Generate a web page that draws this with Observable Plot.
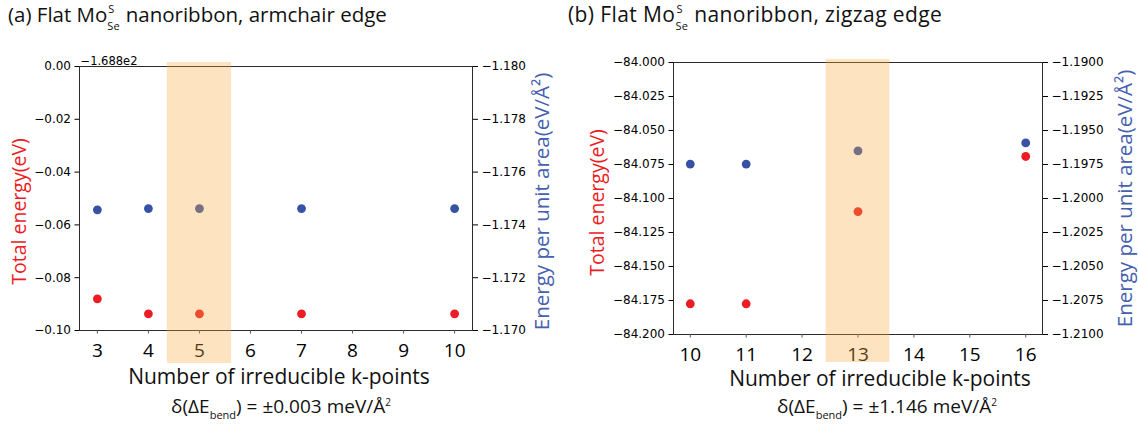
<!DOCTYPE html>
<html><head><meta charset="utf-8">
<script src="https://cdn.jsdelivr.net/npm/d3@7"></script>
<script src="https://cdn.jsdelivr.net/npm/@observablehq/plot@0.6"></script>
<style>
body{margin:0;background:#fff;}
#wrap{position:relative;width:1138px;height:433px;overflow:hidden;font-family:"Open Sans",sans-serif;color:#111;}
.layer{position:absolute;top:0;}
.title{position:absolute;top:0px;line-height:normal;white-space:nowrap;}
.stack{display:inline-block;position:relative;width:13px;height:0;}
.stack .up{position:absolute;left:1px;top:-19px;font-size:11px;line-height:11px;}
.stack .dn{position:absolute;left:0px;top:-2px;font-size:11px;line-height:11px;}
.note{position:absolute;top:396px;width:300px;text-align:center;font-size:19px;line-height:20px;white-space:nowrap;}
.note sub{font-size:11px;vertical-align:-6px;line-height:0;}
.note sup{font-size:10px;vertical-align:7px;line-height:0;}
</style></head>
<body><div id="wrap">
<div class="title" style="left:8px;font-size:20.5px">(a) Flat Mo<span class="stack"><span class="up">S</span><span class="dn">Se</span></span> nanoribbon, armchair edge</div>
<div class="title" style="left:568px;font-size:21px;letter-spacing:0.4px">(b) Flat Mo<span class="stack"><span class="up">S</span><span class="dn">Se</span></span> nanoribbon, zigzag edge</div>
</div>
<script>
// ---- Panel (a): armchair edge ----
const kA = [3, 4, 5, 7, 10];
const totalOffsetA = -168.8;
const offsetLabelA = "\u22121.688e2";
const totalA = [-168.8880, -168.8937, -168.8937, -168.8937, -168.8937];
const areaA = [-1.17457, -1.17462, -1.17462, -1.17462, -1.17462];
const kTicksA = [3, 4, 5, 6, 7, 8, 9, 10];
const totalTicksA = [0, -0.02, -0.04, -0.06, -0.08, -0.10];
const areaTicksA = [-1.180, -1.178, -1.176, -1.174, -1.172, -1.170];
const bandA = [4.37, 5.63];
const noteA = "\u00b10.003";

// ---- Panel (b): zigzag edge ----
const kB = [10, 11, 13, 16];
const totalB = [-84.1774, -84.1774, -84.1096, -84.0691];
const areaB = [-1.19747, -1.19747, -1.1965, -1.19591];
const kTicksB = [10, 11, 12, 13, 14, 15, 16];
const totalTicksB = [-84.000, -84.025, -84.050, -84.075, -84.100, -84.125, -84.150, -84.175, -84.200];
const areaTicksB = [-1.1900, -1.1925, -1.1950, -1.1975, -1.2000, -1.2025, -1.2050, -1.2075, -1.2100];
const bandB = [12.43, 13.57];
const noteB = "\u00b11.146";

const xLabel = "Number of irreducible k-points";
const leftLabel = "Total energy(eV)";
const rightLabel = "Energy per unit area(eV/\u00c5\u00b2)";

const RED = "#ec1c24";
const BLUE = "#3651a5";
const BLUE_LABEL = "#4560ae";
const BAND = "rgb(249,171,67)";
const W = 569, H = 433;
const wrap = document.getElementById("wrap");

function panel(cfg) {
  const rowsL = cfg.k.map((k, i) => ({k, v: cfg.total[i] - (cfg.offset || 0)}));
  const rowsR = cfg.k.map((k, i) => ({k, v: cfg.area[i]}));
  const m = cfg.m;
  const common = {
    width: W, height: H,
    marginLeft: m.l, marginRight: m.r, marginTop: m.t, marginBottom: m.b,
    style: {background: "transparent", fontFamily: "DejaVu Sans", color: "black", overflow: "visible"}
  };
  const marksL = [
    Plot.frame({stroke: "#2a2a2a", strokeWidth: 1}),
    Plot.axisX({ticks: cfg.kTicks, tickSize: 3.5, tickPadding: 9, fontSize: 19, fontFamily: "Open Sans", label: null, tickFormat: d => String(d), stroke: "#555"}),
    Plot.axisY({ticks: cfg.totalTicks, tickSize: 4.5, tickPadding: 4, fontSize: 12, label: null, tickFormat: d3.format(cfg.lf)}),
    Plot.dot(rowsL, {x: "k", y: "v", r: 4.4, fill: RED}),
    Plot.text([xLabel], {text: d => d, frameAnchor: "bottom", textAnchor: "middle", lineAnchor: "middle", dy: cfg.xl.dy, dx: cfg.xl.dx, fontSize: 21, fontFamily: "Open Sans", fill: "#111"}),
    Plot.text([leftLabel], {text: d => d, frameAnchor: "left", textAnchor: "middle", lineAnchor: "middle", rotate: -90, dx: cfg.ll.dx, dy: cfg.ll.dy, fontSize: 19.5, fontFamily: "Open Sans", fill: RED})
  ];
  if (cfg.offsetLabel) marksL.push(Plot.text([cfg.offsetLabel], {text: d => d, frameAnchor: "top-left", textAnchor: "start", lineAnchor: "bottom", dy: -2, dx: 1, fontSize: 11.5}));
  const plotL = Plot.plot({
    ...common,
    x: {domain: cfg.xDomain},
    y: {domain: cfg.yDomainL},
    marks: marksL
  });
  const plotR = Plot.plot({
    ...common,
    x: {domain: cfg.xDomain, axis: null},
    y: {domain: cfg.yDomainR},
    marks: [
      Plot.axisY({anchor: "right", ticks: cfg.areaTicks, tickSize: 5, tickPadding: 4, fontSize: 12, label: null, tickFormat: d3.format(cfg.rf)}),
      Plot.dot(rowsR, {x: "k", y: "v", r: 4.4, fill: BLUE}),
      Plot.rect([cfg.band], {x1: d => d[0], x2: d => d[1], fill: BAND, fillOpacity: 0.335, insetTop: cfg.bandInset[0], insetBottom: cfg.bandInset[1]}),
      Plot.text([rightLabel], {text: d => d, frameAnchor: "right", textAnchor: "middle", lineAnchor: "middle", rotate: -90, dx: cfg.rl.dx, dy: cfg.rl.dy, fontSize: 20.5, fontFamily: "Open Sans", fill: BLUE_LABEL})
    ]
  });
  for (const p of [plotL, plotR]) {
    p.classList.add("layer");
    p.style.left = cfg.left + "px";
    p.style.position = "absolute";
    p.style.top = "0px";
    wrap.appendChild(p);
  }
  const note = document.createElement("div");
  note.className = "note";
  note.style.left = (cfg.noteCenter - 150) + "px";
  note.innerHTML = "\u03b4(\u0394E<sub>bend</sub>) = " + cfg.note + " meV/\u00c5<sup>2</sup>";
  wrap.appendChild(note);
}

panel({
  left: 0, m: {l: 79, r: 97, t: 66, b: 103},
  k: kA, total: totalA, area: areaA, offset: totalOffsetA, offsetLabel: offsetLabelA,
  kTicks: kTicksA, totalTicks: totalTicksA, areaTicks: areaTicksA,
  xDomain: [2.65, 10.35], yDomainL: [-0.10, 0], yDomainR: [-1.170, -1.180],
  lf: ".2f", rf: ".3f", band: bandA, bandInset: [-4, -33],
  xl: {dx: 3, dy: 47}, ll: {dx: -60, dy: 13}, rl: {dx: 70, dy: 3},
  note: noteA, noteCenter: 281
});
panel({
  left: 569, m: {l: 104, r: 96, t: 62, b: 99},
  k: kB, total: totalB, area: areaB, offset: 0, offsetLabel: null,
  kTicks: kTicksB, totalTicks: totalTicksB, areaTicks: areaTicksB,
  xDomain: [9.7, 16.3], yDomainL: [-84.200, -84.000], yDomainR: [-1.2100, -1.1900],
  lf: ".3f", rf: ".4f", band: bandB, bandInset: [-3, -28],
  xl: {dx: 22, dy: 45}, ll: {dx: -76, dy: 4}, rl: {dx: 83, dy: 0},
  note: noteB, noteCenter: 887
});
</script>
</body></html>
